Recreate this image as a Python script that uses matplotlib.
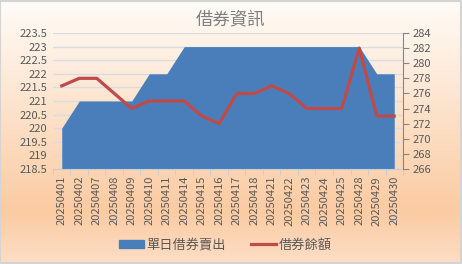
import numpy as np
import matplotlib
matplotlib.use("Agg")
from matplotlib import pyplot as plt
from matplotlib.patches import Rectangle
from matplotlib.lines import Line2D

plt.rcParams['font.family'] = ['Noto Sans CJK TC', 'DejaVu Sans']

# data
dates = ['20250401', '20250402', '20250407', '20250408', '20250409', '20250410',
         '20250411', '20250414', '20250415', '20250416', '20250417', '20250418',
         '20250421', '20250422', '20250423', '20250424', '20250425', '20250428',
         '20250429', '20250430']
daily_short = [220, 221, 221, 221, 221, 222, 222, 223, 223, 223,
               223, 223, 223, 223, 223, 223, 223, 223, 222, 222]
balance = [277, 278, 278, 276, 274, 275, 275, 275, 273, 272,
           276, 276, 277, 276, 274, 274, 274, 282, 273, 273]
left_ticks = [218.5, 219, 219.5, 220, 220.5, 221, 221.5, 222, 222.5, 223, 223.5]
right_ticks = [266, 268, 270, 272, 274, 276, 278, 280, 282, 284]

blue = '#4A7EBB'
red = '#BE4B48'
grey_txt = '#595959'

fig = plt.figure(figsize=(4.62, 2.64), dpi=100)

# gradient background (light at top, peach toward the bottom, a bit lighter at the edge)
bg = fig.add_axes([0, 0, 1, 1], zorder=-10)
stops = [0.0, 0.8, 1.0]
cols = np.array([[255, 252, 248], [251, 203, 162], [253, 222, 198]]) / 255
t = np.linspace(0, 1, 256)
grad = np.stack([np.interp(t, stops, cols[:, k]) for k in range(3)], axis=1)
bg.imshow(grad[:, None, :].repeat(2, axis=1), aspect='auto', extent=[0, 1, 0, 1])
bg.add_patch(Rectangle((0.001, 0.003), 0.997, 0.994, fill=False, ec='#D4D4D4', lw=1.5))
bg.set_xlim(0, 1)
bg.set_ylim(0, 1)
bg.axis('off')

ax = fig.add_axes([0.1147, 0.36, 0.7576, 0.515])
ax.patch.set_alpha(0)
x = np.arange(len(dates))
ax.fill_between(x, 218.5, daily_short, color=blue, lw=0, zorder=2)
ax.set_xlim(-0.5, len(dates) - 0.5)
ax.set_ylim(218.5, 223.5)
ax.set_yticks(left_ticks)
ax.set_yticklabels([('%g' % v) for v in left_ticks])
ax.grid(axis='y', color='#D9DDE3', lw=1, zorder=1)
ax.set_axisbelow(True)
ax.set_xticks(x)
ax.set_xticklabels(dates, rotation=90, fontsize=8, color=grey_txt)
ax.set_xticks(np.arange(-0.5, len(dates)), minor=True)
ax.tick_params(axis='x', which='major', length=0, pad=5)
ax.tick_params(axis='x', which='minor', length=4, color='#C3CCD8')
ax.tick_params(axis='y', length=0, labelsize=8, labelcolor=grey_txt, pad=4)
for s in ['left', 'right', 'top']:
    ax.spines[s].set_visible(False)
ax.spines['bottom'].set_color('#C3CCD8')

ax2 = ax.twinx()
ax2.plot(x, balance, color=red, lw=2.3, solid_joinstyle='round', zorder=3)
ax2.set_ylim(266, 284)
ax2.set_yticks(right_ticks)
ax2.tick_params(axis='y', length=4, color='#868686', labelsize=8,
                labelcolor=grey_txt, pad=3)
for s in ['left', 'top', 'bottom']:
    ax2.spines[s].set_visible(False)
ax2.spines['right'].set_color('#868686')

fig.text(0.5, 0.928, '借券資訊', ha='center', va='center', fontsize=12.5, color='#7F7F7F')

handles = [Rectangle((0, 0), 1, 1, color=blue), Line2D([], [], color=red, lw=2.3)]
fig.legend(handles, ['單日借券賣出', '借券餘額'], loc='center', bbox_to_anchor=(0.487, 0.072),
           ncol=2, frameon=False, fontsize=9.5, labelcolor=grey_txt,
           handlelength=1.9, handleheight=0.5, handletextpad=0.2, columnspacing=1.9)

fig.savefig('out.png', dpi=100)
